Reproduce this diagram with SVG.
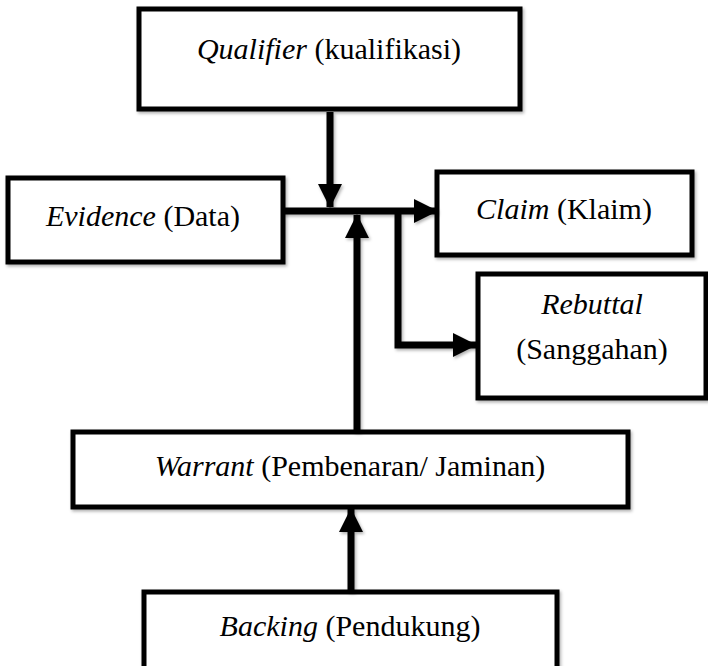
<svg xmlns="http://www.w3.org/2000/svg" width="708" height="666" viewBox="0 0 708 666">
<defs>
<marker id="ah" markerUnits="userSpaceOnUse" markerWidth="24" markerHeight="26" refX="23" refY="12" orient="auto">
<path d="M0,0 L24,12 L0,24 Z" fill="#000"/>
</marker>
<filter id="sh" filterUnits="userSpaceOnUse" x="0" y="0" width="708" height="666">
<feDropShadow dx="1.5" dy="2" stdDeviation="1.5" flood-color="#000" flood-opacity="0.3"/>
</filter>
</defs>
<style>
.box{fill:#fff;stroke:#000;stroke-width:5;filter:url(#sh)}
.t{font-family:"Liberation Serif","DejaVu Serif",serif;font-size:30px;fill:#000;text-anchor:middle}
.i{font-style:italic}
.c{fill:none;stroke:#000;stroke-width:7}
</style>
<rect width="708" height="666" fill="#fff"/>
<g id="qualifier">
<rect class="box" x="139" y="9" width="381" height="100"/>
<text class="t" x="329" y="59"><tspan class="i">Qualifier</tspan> (kualifikasi)</text>
</g>
<g id="evidence">
<rect class="box" x="8" y="178" width="275" height="84"/>
<text class="t" x="143" y="226"><tspan class="i">Evidence</tspan> (Data)</text>
</g>
<g id="claim">
<rect class="box" x="437" y="172" width="255" height="83"/>
<text class="t" x="564" y="219"><tspan class="i">Claim</tspan> (Klaim)</text>
</g>
<g id="rebuttal">
<rect class="box" x="478" y="274" width="228" height="124"/>
<text class="t" x="592" y="314"><tspan class="i">Rebuttal</tspan></text>
<text class="t" x="592" y="359">(Sanggahan)</text>
</g>
<g id="warrant">
<rect class="box" x="73" y="432" width="555" height="75"/>
<text class="t" x="350" y="476"><tspan class="i">Warrant</tspan> (Pembenaran/ Jaminan)</text>
</g>
<g id="backing">
<rect class="box" x="144" y="592" width="413" height="78"/>
<text class="t" x="350" y="636"><tspan class="i">Backing</tspan> (Pendukung)</text>
</g>
<g id="connectors" filter="url(#sh)">
<line class="c" x1="330" y1="112" x2="330" y2="207" marker-end="url(#ah)"/>
<line class="c" x1="283" y1="211" x2="437" y2="211" marker-end="url(#ah)"/>
<line class="c" x1="357" y1="432" x2="357" y2="215" marker-end="url(#ah)"/>
<polyline class="c" points="398,213 398,345 476,345" marker-end="url(#ah)"/>
<line class="c" x1="351" y1="592" x2="351" y2="509" marker-end="url(#ah)"/>
</g>
</svg>
